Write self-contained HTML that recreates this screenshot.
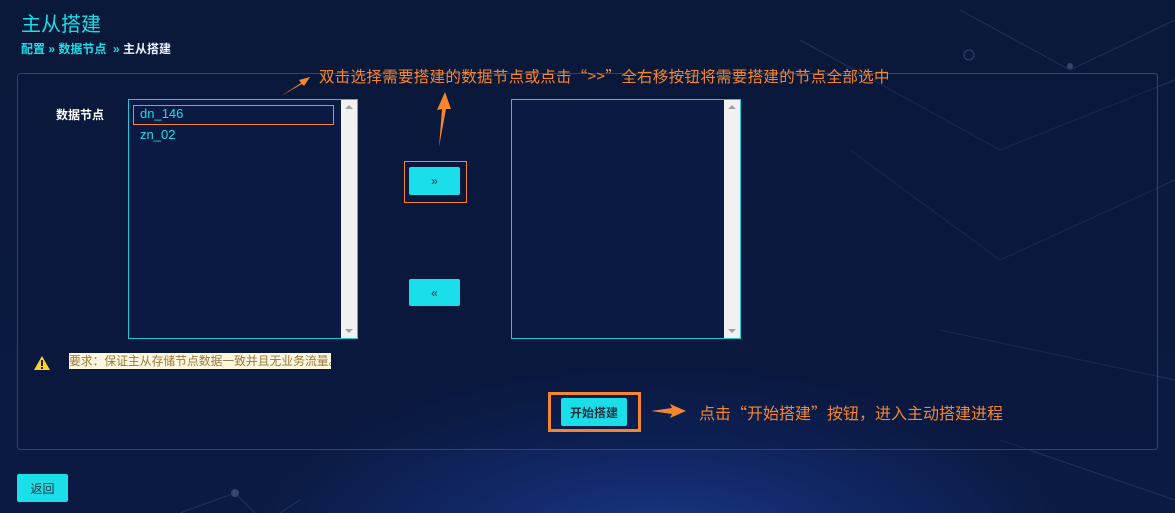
<!DOCTYPE html>
<html><head><meta charset="utf-8"><style>
*{margin:0;padding:0;box-sizing:border-box}
body{width:1175px;height:513px;overflow:hidden;position:relative;font-family:"Liberation Sans","Noto Sans CJK SC",sans-serif;
background:radial-gradient(ellipse 420px 200px at 660px 560px,#1b3c8a 0%,#12296a 45%,rgba(11,26,62,0) 100%),linear-gradient(180deg,#0a1839 0%,#0b1a42 100%);}
.abs{position:absolute}
.cy{background:#1adfe8;color:#234;border-radius:2px;font-size:12px;display:flex;align-items:center;justify-content:center}
.list{border:1px solid #1fc8d8;background:#0b1a42}
.sb{position:absolute;right:0;top:0;bottom:0;width:16px;background:#f1f1f1}
.sb:before{content:"";position:absolute;left:4px;top:5px;border:4px solid transparent;border-bottom:4px solid #a0a0a0;border-top:0}
.sb:after{content:"";position:absolute;left:4px;bottom:5px;border:4px solid transparent;border-top:4px solid #a0a0a0;border-bottom:0}
.or{color:#f5862e;font-size:16px;white-space:nowrap;font-family:"Noto Sans CJK SC",sans-serif}
</style></head><body>
<svg class="abs" style="left:0;top:0" width="1175" height="513">
<g stroke="#2a3c66" stroke-width="1" fill="none" opacity=".7">
<path d="M800 40 L1000 150 L1175 80"/><path d="M960 10 L1070 70 L1175 20"/><path d="M850 150 L1000 260 L1175 180"/>
<path d="M940 330 L1175 380"/><path d="M1000 440 L1175 500"/><path d="M180 513 L235 493 L255 513"/><path d="M280 513 L300 500"/>
</g>
<circle cx="969" cy="55" r="5" fill="none" stroke="#34476f"/><circle cx="1070" cy="66" r="3" fill="#34476f"/><circle cx="235" cy="493" r="4" fill="#34476f"/>
<rect x="17.5" y="73.5" width="1140" height="376" rx="3" fill="rgba(10,24,60,0.35)" stroke="#1b4a8a"/>
<path d="M281 96 L301 83 L299 80 L310 77 L304 86 L302 84 Z" fill="#f5862e"/>
<path d="M439 147 L442 109 L437 110 L445 92 L451 109 L446 109 Z" fill="#f5862e"/>
<path d="M651 411 L672 408 L670 404 L686 411 L670 418 L672 414 Z" fill="#f5862e"/>
<path d="M42 356 L50 370 L34 370 Z" fill="#f7d330"/><rect x="41" y="360" width="2" height="6" fill="#222"/><rect x="41" y="367" width="2" height="2" fill="#222"/>
</svg>
<div class="abs" style="left:21px;top:8px;font-size:20px;color:#1adfe8">主从搭建</div>
<div class="abs" style="left:21px;top:40px;font-size:12px;font-weight:bold;color:#1adfe8">配置 » 数据节点 &nbsp;» <span style="color:#e8f0ff">主从搭建</span></div>
<div class="abs or" style="left:319px;top:65px;font-size:15.5px;letter-spacing:0.3px">双击选择需要搭建的数据节点或点击“&gt;&gt;”全右移按钮将需要搭建的节点全部选中</div>
<div class="abs" style="left:56px;top:106px;font-size:12px;font-weight:bold;color:#fff">数据节点</div>
<div class="abs list" style="left:128px;top:99px;width:230px;height:240px"><div class="sb"></div>
<div class="abs" style="left:4px;top:5px;width:201px;height:20px;border:1px solid #f5862e"></div>
<div class="abs" style="left:11px;top:6px;font-size:13px;color:#1adfe8">dn_146</div>
<div class="abs" style="left:11px;top:27px;font-size:13px;color:#1adfe8">zn_02</div></div>
<div class="abs list" style="left:511px;top:99px;width:230px;height:240px"><div class="sb"></div></div>
<div class="abs" style="left:404px;top:161px;width:63px;height:42px;border:1px solid #f5862e"></div>
<div class="abs cy" style="left:409px;top:167px;width:51px;height:28px">»</div>
<div class="abs cy" style="left:409px;top:279px;width:51px;height:27px">«</div>
<div class="abs" style="left:69px;top:353px;width:262px;height:16px;background:#fdf6e0;color:#9a7a3a;font-size:11.8px;line-height:16px;white-space:nowrap;overflow:hidden">要求：保证主从存储节点数据一致并且无业务流量。</div>
<div class="abs" style="left:548px;top:392px;width:93px;height:40px;border:3px solid #f5862e"></div>
<div class="abs cy" style="left:561px;top:398px;width:66px;height:28px;font-weight:bold">开始搭建</div>
<div class="abs or" style="left:699px;top:400px">点击“开始搭建”按钮，进入主动搭建进程</div>
<div class="abs cy" style="left:17px;top:474px;width:51px;height:28px">返回</div>
</body></html>
